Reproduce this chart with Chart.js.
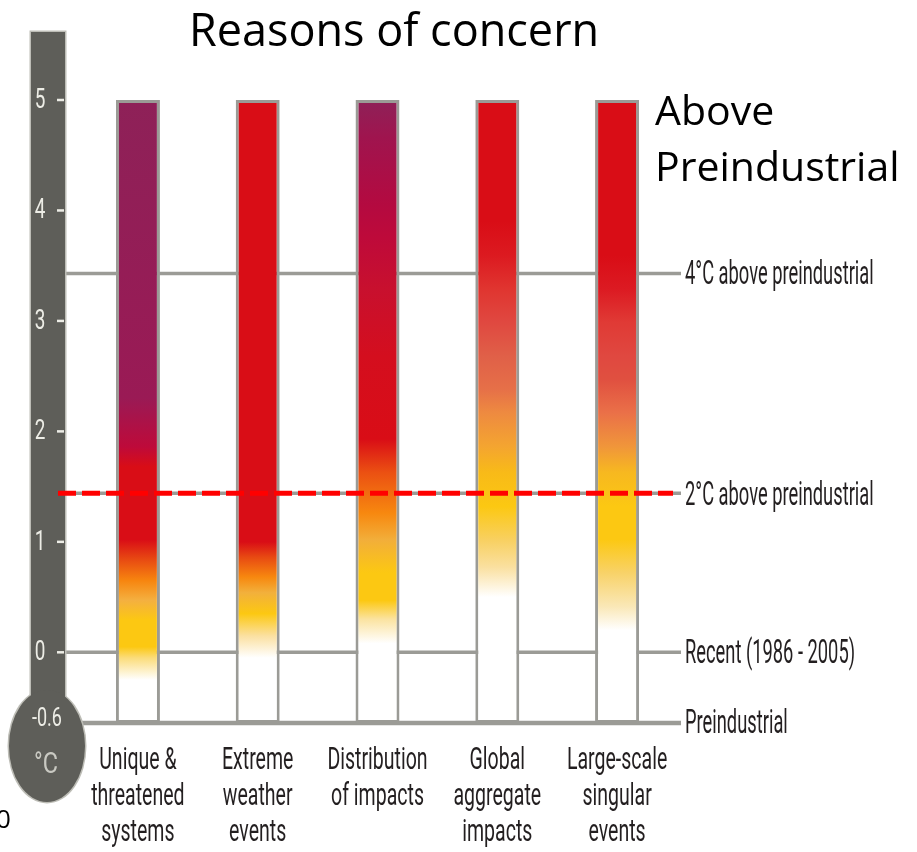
<!DOCTYPE html>
<html>
<head>
<meta charset="utf-8">
<script src="https://cdn.jsdelivr.net/npm/chart.js@4.4.0/dist/chart.umd.min.js"></script>
<style>
body { margin: 0; background: #fff; }
#wrap { width: 917px; height: 852px; }
</style>
</head>
<body>
<div id="wrap"><canvas id="concern"></canvas></div>
<script>
// categories and bar extents (degrees C, relative to recent)
var categories = [
	['Unique &', 'threatened', 'systems'],
	['Extreme', 'weather', 'events'],
	['Distribution', 'of impacts'],
	['Global', 'aggregate', 'impacts'],
	['Large-scale', 'singular', 'events']
];
var barLow = [-0.64, -0.64, -0.64, -0.64, -0.64];
var barHigh = [5, 5, 5, 5, 5];

// thermometer ticks
var yTicks = [0, 1, 2, 3, 4, 5];
var bulbValue = -0.6;
var bulbUnit = '°C';

// reference lines on the right
var refValues = [3.43, 0, -0.64];
var refLabels = ['4°C above preindustrial', 'Recent (1986 - 2005)', 'Preindustrial'];
var twoDegValue = 1.44;
var twoDegLabel = '2°C above preindustrial';

// colour stops for each bar: [value, colour]
var stopsUnique = [[-0.64, '#FFFFFF'], [-0.25, '#FFFFFF'], [-0.05, '#FBDC7A'], [0.05, '#FCC812'], [0.29, '#FCC812'], [0.47, '#F4B040'], [0.65, '#F7850F'], [0.84, '#E84A12'], [1.02, '#D90D16'], [1.68, '#D90D16'], [1.86, '#BE0A3A'], [2.3, '#9A1A55'], [5, '#8E2158']];
var stopsExtreme = [[-0.64, '#FFFFFF'], [-0.05, '#FFFFFF'], [0.15, '#FBE0A0'], [0.35, '#FCC812'], [0.54, '#F2B03C'], [0.68, '#F7880F'], [0.86, '#E84A12'], [1.0, '#D90D16'], [5, '#D90D16']];
var stopsDistribution = [[-0.64, '#FFFFFF'], [0.08, '#FFFFFF'], [0.3, '#FBE3A0'], [0.47, '#FCC812'], [0.72, '#FCC812'], [1.02, '#F2AE3A'], [1.26, '#F7880F'], [1.63, '#EB5012'], [1.93, '#D90D16'], [2.68, '#D40E1E'], [3.29, '#C8102E'], [3.75, '#BE0A3A'], [4.05, '#B40A40'], [4.65, '#A0144E'], [5, '#8E2158']];
var stopsGlobal = [[-0.64, '#FFFFFF'], [0.5, '#FFFFFF'], [0.77, '#FAE0A0'], [1.02, '#F8D060'], [1.32, '#FCC812'], [1.63, '#F8BA18'], [1.86, '#F4A530'], [2.17, '#EE8A40'], [2.38, '#E67048'], [2.68, '#E06048'], [2.99, '#E04840'], [3.29, '#E03530'], [3.59, '#DC1A20'], [3.9, '#D90D16'], [5, '#D90D16']];
var stopsLarge = [[-0.64, '#FFFFFF'], [0.2, '#FFFFFF'], [0.41, '#FAE8B8'], [0.72, '#F8D268'], [1.02, '#FCC812'], [1.32, '#FCC812'], [1.63, '#F7B820'], [1.86, '#F0963A'], [2.17, '#EA7048'], [2.47, '#E05040'], [2.68, '#E04840'], [2.99, '#E03A35'], [3.29, '#DC1A22'], [3.59, '#D90D16'], [5, '#D90D16']];
var barStops = [stopsUnique, stopsExtreme, stopsDistribution, stopsGlobal, stopsLarge];

var lineGrey = '#9B9B96';
var textDark = '#231F20';

function squeezeText(ctx, text, x, y, sx, align) {
	ctx.save();
	ctx.translate(x, y);
	ctx.scale(sx, 1);
	ctx.textAlign = align;
	ctx.fillText(text, 0, 0);
	ctx.restore();
}

function barGradient(context) {
	var chart = context.chart;
	if (!chart.chartArea) return '#D90D16';
	var i = context.dataIndex;
	var y = chart.scales.y;
	var lo = barLow[i], hi = barHigh[i];
	var g = chart.ctx.createLinearGradient(0, y.getPixelForValue(lo), 0, y.getPixelForValue(hi));
	barStops[i].forEach(function (s) {
		var t = (s[0] - lo) / (hi - lo);
		g.addColorStop(Math.min(1, Math.max(0, t)), s[1]);
	});
	return g;
}

Chart.register({
	id: 'concernDecor',
	beforeDraw: function (chart) {
		var ctx = chart.ctx;
		ctx.save();
		ctx.fillStyle = 'white';
		ctx.fillRect(0, 0, chart.width, chart.height);
		ctx.restore();
	},
	beforeDatasetsDraw: function (chart) {
		var ctx = chart.ctx;
		var y = chart.scales.y;
		var right = chart.chartArea.right + 4;
		ctx.save();
		// grey reference lines
		ctx.strokeStyle = lineGrey;
		refValues.forEach(function (v, k) {
			ctx.lineWidth = (k === refValues.length - 1) ? 4.5 : 3.5;
			ctx.beginPath();
			ctx.moveTo(60, y.getPixelForValue(v));
			ctx.lineTo(right, y.getPixelForValue(v));
			ctx.stroke();
		});
		ctx.lineWidth = 3.5;
		ctx.beginPath();
		ctx.moveTo(60, y.getPixelForValue(twoDegValue));
		ctx.lineTo(right, y.getPixelForValue(twoDegValue));
		ctx.stroke();

		// thermometer
		var top = 32, left = 31, w = 34;
		ctx.fillStyle = '#BDBDB6';
		ctx.fillRect(left - 1.5, top - 1.5, w + 3, 700 - top);
		ctx.beginPath();
		ctx.ellipse(47, 746, 39.5, 57.5, 0, 0, Math.PI * 2);
		ctx.fill();
		ctx.fillStyle = '#5E5E59';
		ctx.fillRect(left, top, w, 700 - top);
		ctx.beginPath();
		ctx.ellipse(47, 746, 38, 56, 0, 0, Math.PI * 2);
		ctx.fill();
		ctx.restore();
	},
	afterDatasetsDraw: function (chart) {
		var ctx = chart.ctx;
		var y = chart.scales.y;
		var x = chart.scales.x;
		var right = chart.chartArea.right;
		ctx.save();

		// red dashed 2 degree line
		ctx.strokeStyle = '#FF0000';
		ctx.lineWidth = 5;
		ctx.setLineDash([18, 6]);
		ctx.beginPath();
		ctx.moveTo(58, y.getPixelForValue(twoDegValue));
		ctx.lineTo(right - 4, y.getPixelForValue(twoDegValue));
		ctx.stroke();
		ctx.setLineDash([]);

		// thermometer ticks and labels
		ctx.strokeStyle = '#EDEDE6';
		ctx.fillStyle = '#EDEDE6';
		ctx.lineWidth = 2.5;
		ctx.font = '27px Roboto';
		ctx.textBaseline = 'middle';
		yTicks.forEach(function (v) {
			var py = y.getPixelForValue(v);
			ctx.beginPath();
			ctx.moveTo(57, py);
			ctx.lineTo(64, py);
			ctx.stroke();
			squeezeText(ctx, String(v), 40, py + 1, 0.7, 'center');
		});
		ctx.font = '25px Roboto';
		squeezeText(ctx, String(bulbValue), 47, y.getPixelForValue(bulbValue) + 1, 0.72, 'center');
		ctx.fillStyle = '#C9C9C2';
		ctx.font = '30px Roboto';
		squeezeText(ctx, bulbUnit, 46, 765, 0.78, 'center');

		// category labels
		ctx.fillStyle = textDark;
		ctx.font = '31px Roboto';
		ctx.textBaseline = 'alphabetic';
		categories.forEach(function (lines, i) {
			var cx = x.getPixelForValue(i);
			lines.forEach(function (t, k) {
				squeezeText(ctx, t, cx, 769 + k * 36, 0.63, 'center');
			});
		});

		// right labels
		ctx.font = '33px Roboto';
		ctx.textBaseline = 'middle';
		refValues.forEach(function (v, k) {
			squeezeText(ctx, refLabels[k], right + 8, y.getPixelForValue(v) + 2, 0.555, 'left');
		});
		squeezeText(ctx, twoDegLabel, right + 8, y.getPixelForValue(twoDegValue) + 4, 0.555, 'left');

		// titles
		ctx.fillStyle = '#000000';
		ctx.textBaseline = 'alphabetic';
		ctx.textAlign = 'center';
		ctx.font = '45px "Open Sans"';
		ctx.fillText('Reasons of concern', 394, 46);
		ctx.textAlign = 'left';
		ctx.font = '41px "Open Sans"';
		ctx.fillText('Above', 655, 125);
		ctx.fillText('Preindustrial', 655, 181);
		ctx.font = '26px "Open Sans"';
		ctx.fillText('0', -4, 828);
		ctx.restore();
	}
});

function start() {
	var ctx = document.getElementById('concern').getContext('2d');
	var concern = new Chart(ctx, {
		type: 'bar',
		data: {
			labels: categories,
			datasets: [{
				label: 'Reasons of concern',
				data: categories.map(function (c, i) { return [barLow[i], barHigh[i]]; }),
				backgroundColor: barGradient,
				borderColor: lineGrey,
				borderWidth: 3,
				borderSkipped: false,
				barPercentage: 0.367,
				categoryPercentage: 1
			}]
		},
		options: {
			responsive: true,
			maintainAspectRatio: false,
			animation: false,
			events: [],
			layout: {
				padding: { left: 78, right: 240, top: 100, bottom: 129 }
			},
			plugins: {
				legend: { display: false },
				tooltip: { enabled: false }
			},
			scales: {
				x: { display: false },
				y: { display: false, min: -0.64, max: 5 }
			}
		}
	});
}

window.onload = start;
</script>
</body>
</html>
